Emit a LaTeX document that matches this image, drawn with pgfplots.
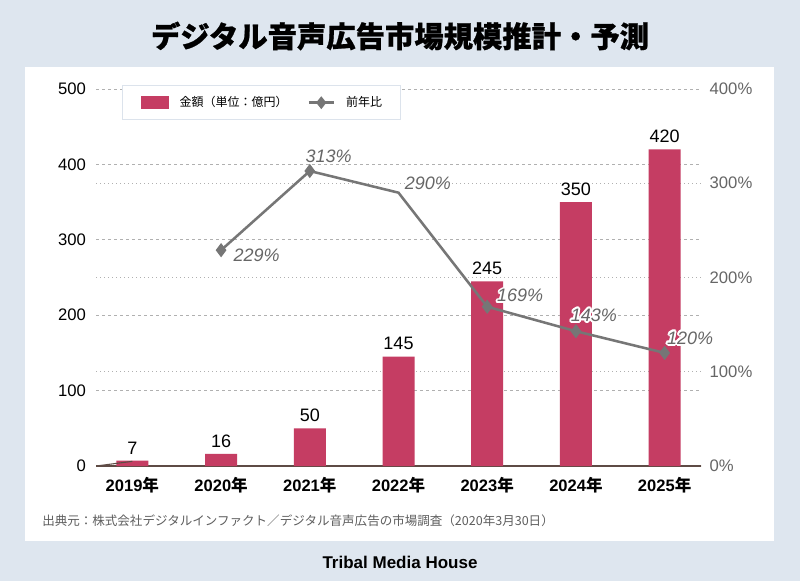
\documentclass[border=0pt]{standalone}
\usepackage{fontspec}
\setmainfont{Liberation Sans}
\newfontfamily\cjk{Noto Sans CJK JP}
\newfontfamily\cjktitle[FakeBold=0.8]{Noto Sans CJK JP}
\usepackage{pgfplots}
\pgfplotsset{compat=1.18}
\usepackage{contour}
\contourlength{1.4bp}

\definecolor{bgblue}{HTML}{DEE6EF}
\definecolor{barred}{HTML}{C53D63}
\definecolor{linegray}{HTML}{767676}
\definecolor{gridgray}{HTML}{B0B0B0}
\definecolor{axisbrown}{HTML}{5E4B45}
\definecolor{txtgray}{HTML}{666666}
\definecolor{srcgray}{HTML}{5E5E5E}
\definecolor{legendborder}{HTML}{DCE3EC}

% pixel geometry: 1px = 0.75bp, picture 800x581 px
\pgfplotsset{
  twinaxes/.style={
    at={(72bp,-349.5bp)}, anchor=south west,
    scale only axis, width=453.75bp, height=282.75bp,
    xmin=-0.41, xmax=6.41, ymin=0,
    major tick length=0pt,
    /pgf/number format/assume math mode=true,
  },
}
\tikzset{pct/.style={font=\itshape\fontsize{13.5bp}{15bp}\selectfont, text=txtgray}}

\begin{document}
\begin{tikzpicture}
\useasboundingbox (0,0) rectangle (600bp,-435.75bp);
\begin{scope}[x=0.75bp,y=-0.75bp]
  \fill[bgblue] (0,0) rectangle (800,581);
  \fill[white] (25,67) rectangle (774,541);
  \node[font=\cjktitle\bfseries\fontsize{22bp}{26bp}\selectfont] at (400,36)
    {デジタル音声広告市場規模推計・予測};
  \node[anchor=west, inner sep=0pt, text=srcgray, font=\cjk\fontsize{9.4bp}{11bp}\selectfont] at (42,521)
    {出典元：株式会社デジタルインファクト／デジタル音声広告の市場調査（2020年3月30日）};
  \node[font=\bfseries\fontsize{12.75bp}{15bp}\selectfont] at (400,562) {Tribal Media House};
\end{scope}

% amounts (left axis)
\begin{axis}[
  twinaxes,
  ymax=500,
  axis x line*=bottom, axis y line*=left,
  x axis line style={axisbrown, line width=0.8bp, -},
  y axis line style={draw=none},
  xtick={0,...,6},
  xticklabels={2019{\cjk 年},2020{\cjk 年},2021{\cjk 年},2022{\cjk 年},2023{\cjk 年},2024{\cjk 年},2025{\cjk 年}},
  xticklabel style={font=\bfseries\fontsize{12.4bp}{14bp}\selectfont, yshift=-5bp},
  ytick={0,100,...,500},
  yticklabel style={font=\fontsize{12.5bp}{14bp}\selectfont, xshift=-4bp},
  ymajorgrids,
  major grid style={gridgray, line width=0.75bp, dash pattern=on 2.25bp off 2.25bp},
  extra y ticks={125,250,375},
  extra y tick labels={},
  extra y tick style={ymajorgrids=true,
    major grid style={gridgray, line width=0.75bp, dash pattern=on 0.9bp off 2.1bp}},
]
\addplot[ybar, bar width=24bp, fill=barred, draw=none,
  nodes near coords,
  every node near coord/.append style={font=\fontsize{13.5bp}{15bp}\selectfont, text=black, yshift=1.5bp}]
  coordinates {(0,7) (1,16) (2,50) (3,145) (4,245) (5,350) (6,420)};
\draw[axisbrown, line width=0.8bp] (rel axis cs:0,0) -- ++(0,3.5bp);
\draw[axisbrown, line width=0.8bp] (rel axis cs:1,0) -- ++(0,3.5bp);
\end{axis}

% year-on-year ratio (right axis)
\begin{axis}[
  twinaxes,
  ymax=400,
  clip=false,
  axis x line=none, axis y line*=right,
  y axis line style={draw=none},
  ytick={0,100,...,400},
  yticklabel={\pgfmathprintnumber{\tick}\%},
  yticklabel style={font=\fontsize{12.5bp}{14bp}\selectfont, text=txtgray, xshift=3bp},
  legend columns=2,
  legend style={at={(0.043,1.0106)}, anchor=north west,
    draw=legendborder, fill=white, line width=0.75bp,
    inner xsep=13.5bp, inner ysep=8bp,
    font=\cjk\fontsize{9bp}{11bp}\selectfont,
    column sep=8.25bp,
    /tikz/every even column/.append style={column sep=15bp},
    nodes={inner sep=0pt}},
]
\addlegendimage{legend image code/.code={\fill[barred] (0bp,-4.5bp) rectangle (20.25bp,4.5bp);}}
\addlegendentry{金額（単位：億円）}
\addplot[linegray, line width=1.9bp, mark=diamond*, mark size=3.8bp,
  mark indices={1,2,4,5,6},
  legend image code/.code={\draw[linegray, line width=1.9bp] (0bp,0bp) -- (18.75bp,0bp);
    \fill[linegray] (9.375bp,3.3bp) -- (12bp,0bp) -- (9.375bp,-3.3bp) -- (6.75bp,0bp) -- cycle;}]
  coordinates {(1,229) (2,313) (3,290) (4,169) (5,143) (6,120)};
\addlegendentry{前年比\hspace{5bp}}
\node[pct, xshift=26.6bp, yshift=-4.5bp] at (axis cs:1,229) {\contour{white}{229\%}};
\node[pct, xshift=14.2bp, yshift=10.5bp] at (axis cs:2,313) {\contour{white}{313\%}};
\node[pct, xshift=22.1bp, yshift=6.7bp] at (axis cs:3,290) {\contour{white}{290\%}};
\node[pct, xshift=24.7bp, yshift=7.5bp] at (axis cs:4,169) {\contour{white}{169\%}};
\node[pct, xshift=13.5bp, yshift=11.2bp] at (axis cs:5,143) {\contour{white}{143\%}};
\node[pct, xshift=19.1bp, yshift=10.5bp] at (axis cs:6,120) {\contour{white}{120\%}};
\end{axis}
\end{tikzpicture}
\end{document}
